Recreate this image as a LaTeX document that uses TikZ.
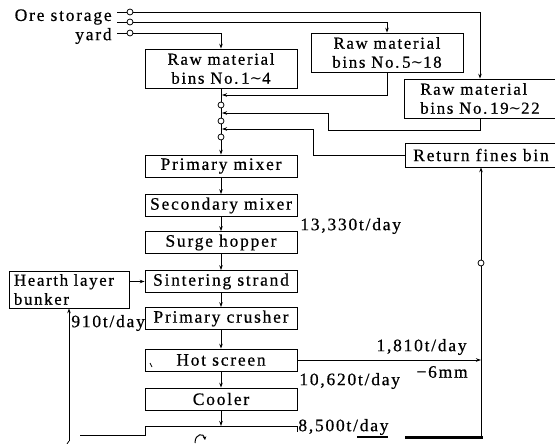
\documentclass[tikz,border=0pt]{standalone}
\usepackage{fontspec}
\setmainfont{Liberation Serif}[LetterSpace=10,FakeBold=0.6]
\newfontfamily\symf{DejaVu Serif}
\newcommand{\wv}{{\symf\fontsize{15}{15}\selectfont ∼}}
\usetikzlibrary{arrows.meta}
\begin{document}
\begin{tikzpicture}[x=1pt,y=-1pt,
  font=\fontsize{17.5}{16.5}\selectfont,
  line width=0.75pt,
  >={Stealth[length=5pt,width=3.5pt]},
  procbox/.style={draw, minimum width=152pt, minimum height=22pt, inner sep=0pt},
  rawbox/.style={procbox, minimum height=39pt, align=center, font=\fontsize{16.8}{19}\selectfont},
  junc/.style={circle, draw, fill=white, inner sep=0pt, minimum size=6pt},
  lbl/.style={inner sep=0pt}]
\useasboundingbox (0,0) rectangle (555,444);

% boxes
\node[rawbox] (raw1) at (221,68.5) {Raw material\\bins No.\,1\wv4};
\node[rawbox] (raw2) at (387,52.5) {Raw material\\bins No.\,5\wv18};
\node[rawbox, align=left] (raw3) at (480,98.5) {Raw material\\bins No.\,19\wv22};
\node[procbox, minimum height=24pt] (ret) at (481,155) {Return fines bin};
\node[procbox] (pm) at (221,166) {Primary mixer};
\node[procbox] (sm) at (221,205.5) {Secondary mixer};
\node[procbox] (sh) at (221,242.5) {Surge hopper};
\node[procbox] (ss) at (221,281.5) {Sintering strand};
\node[procbox] (pc) at (221,318.5) {Primary crusher};
\node[procbox] (hs) at (221,360) {Hot screen};
\node[procbox] (co) at (221,399) {Cooler};
\node[draw, minimum height=37pt, inner xsep=5pt, inner ysep=0pt, align=left, text width=110pt, font=\fontsize{16.8}{19}\selectfont] (hb) at (69,289.5) {Hearth layer\\bunker};

% labels
\node[lbl, anchor=east] (ore) at (112,17) {Ore storage};
\node[lbl, anchor=east] (yard) at (112,36) {yard};
\node[lbl, anchor=west] (l133) at (300,226) {13,330t/day};
\node[lbl, anchor=west] (l910) at (71,323) {910t/day};
\node[lbl, anchor=east] (l181) at (467,347) {1,810t/day};
\node[lbl, anchor=east] (l6mm) at (468,372) {−6mm};
\node[lbl, anchor=west] (l106) at (299,381) {10,620t/day};
\node[lbl, anchor=west] (l85) at (298,427) {8,500t/day};

% coordinates
\coordinate (o1) at (117,12);
\coordinate (o2) at (117,22);
\coordinate (o3) at (117,33);
\coordinate (j1) at (222,95);
\coordinate (j2) at (222,113);
\coordinate (j3) at (222,129);
\coordinate (b2) at (328,130);
\coordinate (b3) at (313,129);
\coordinate (bt) at (221,426);
\coordinate (rb) at (481,438);
\coordinate (rs) at (481,360);
\coordinate (hbb) at (69,441);

% supply lines
\draw[->] (o1) -| (raw3.north);
\draw[->] (o2) -| (raw2.north);
\draw[->] (o3) -| (raw1.north);
\node[junc] (c1) at (130,12) {};
\node[junc] (c2) at (130,22) {};
\node[junc] (c3) at (130,33) {};

% central line
\draw[->] (raw1.south) -- (pm.north);
\draw[->] (raw2.south) |- (j1);
\draw[->] (raw3.south) |- (b2) |- (j2);
\draw[->] (ret.west) -| (b3) -- (j3);
\node[junc] (c4) at (221,105) {};
\node[junc] (c5) at (221,121) {};
\node[junc] (c6) at (221,137) {};

% process chain
\draw[->] (pm.south) -- (sm.north);
\draw[->] (sm.south) -- (sh.north);
\draw[->] (sh.south) -- (ss.north);
\draw[->] (ss.south) -- (pc.north);
\draw[->] (pc.south) -- (hs.north);
\draw[->] (hs.south) -- (co.north);
\draw[->] (co.south) -- (bt);
\draw (80,435) -- (145,435) -- (145,426) -- (297,426) -- (297,432);
\draw[line width=1pt, -{Stealth[length=3.5pt,width=3.5pt]}] (195,443) .. controls (195,433) and (204,433) .. (205,440);

% hearth layer
\draw[->] (hb.east |- ss.west) -- (ss.west);
\draw[->] (hbb) -- (hb.south);
\draw (hbb) .. controls (68,443) .. (67,444);

% return fines
\draw[->] (hs.east) -- (rs);
\draw[->] (rb) -- (ret.south);
\node[junc] (c7) at (481,263) {};
\draw (150,363) -- (152,367);

% bars
\draw[line width=1.8pt] (357,437) -- (388,437);
\draw[line width=3pt] (405,437) -- (483,437);
\end{tikzpicture}
\end{document}
